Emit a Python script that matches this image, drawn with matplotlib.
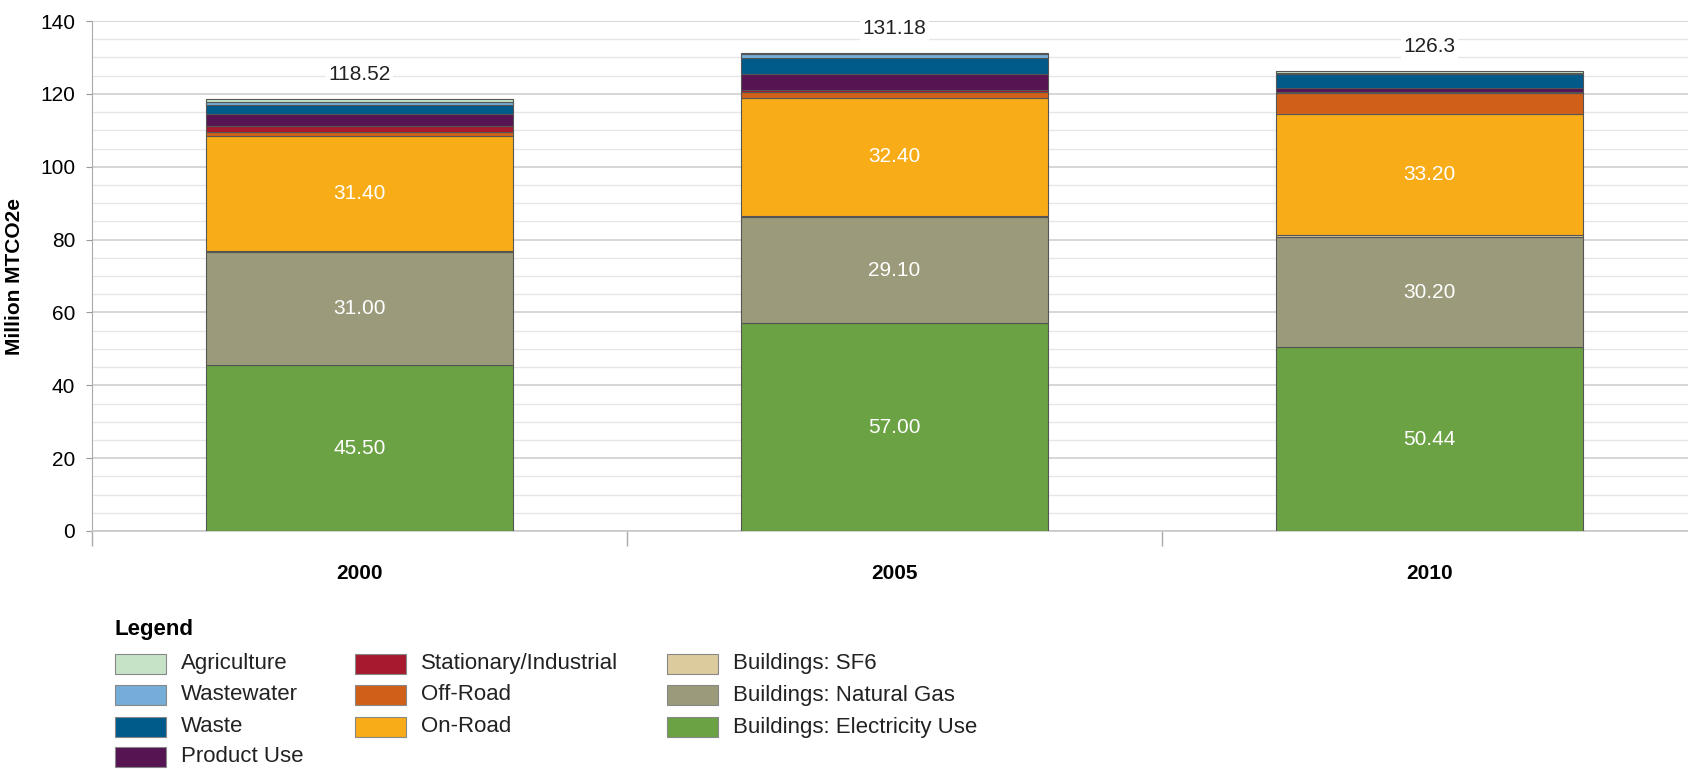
import matplotlib
matplotlib.use('Agg')
import matplotlib.pyplot as plt
from matplotlib.patches import Rectangle
import numpy as np

plt.rcParams['font.family'] = ['Liberation Sans Narrow', 'Liberation Sans', 'DejaVu Sans']

# data (stacked bottom -> top)
years = ['2000', '2005', '2010']
electricity = [45.50, 57.00, 50.44]
natural_gas = [31.00, 29.10, 30.20]
sf6 = [0.40, 0.50, 0.50]
on_road = [31.40, 32.40, 33.20]
off_road = [1.30, 1.50, 5.76]
stationary = [1.50, 0.60, 0.30]
product_use = [3.30, 4.30, 1.30]
waste = [2.50, 4.50, 3.70]
wastewater = [0.95, 1.00, 0.30]
agriculture = [0.67, 0.28, 0.60]
totals = [118.52, 131.18, 126.3]

series = [
    ('Buildings: Electricity Use', electricity, '#6aa244'),
    ('Buildings: Natural Gas', natural_gas, '#9b9a7a'),
    ('Buildings: SF6', sf6, '#dccb9c'),
    ('On-Road', on_road, '#f8ac18'),
    ('Off-Road', off_road, '#d05f1a'),
    ('Stationary/Industrial', stationary, '#a6192e'),
    ('Product Use', product_use, '#561452'),
    ('Waste', waste, '#005a8a'),
    ('Wastewater', wastewater, '#74aed8'),
    ('Agriculture', agriculture, '#c6e3c8'),
]
labelled = ['Buildings: Electricity Use', 'Buildings: Natural Gas', 'On-Road']

W, H = 1688, 769
fig = plt.figure(figsize=(W / 100, H / 100), dpi=100)
ax = fig.add_axes([92 / W, 238 / H, 1605 / W, 510 / H])

x = np.arange(len(years))
bottom = np.zeros(len(years))
colors = {}
for name, vals, col in series:
    vals = np.array(vals)
    bars = ax.bar(x, vals, 0.575, bottom=bottom, color=col, edgecolor='#555555',
                  linewidth=0.8, zorder=3)
    colors[name] = col
    if name in labelled:
        for xi, b, v in zip(x, bottom, vals):
            ax.text(xi, b + v / 2, f'{v:.2f}', ha='center', va='center',
                    color='white', fontsize=15, zorder=4)
    bottom = bottom + vals

for xi, t in zip(x, totals):
    ax.text(xi, t + 6.7, f'{t:g}', ha='center', va='center', fontsize=15,
            color='#222222', zorder=4,
            bbox=dict(facecolor='white', edgecolor='none', pad=2))

ax.set_xlim(-0.5, 2.5)
ax.set_ylim(0, 140)
ax.set_yticks(np.arange(0, 141, 20))
ax.set_yticks(np.arange(0, 141, 5), minor=True)
ax.grid(axis='y', which='major', color='#cfcfcf', linewidth=1.2, zorder=0)
ax.grid(axis='y', which='minor', color='#e6e6e6', linewidth=1.0, zorder=0)
ax.tick_params(axis='y', which='major', length=4, color='#999999', labelsize=15, pad=8)
ax.tick_params(axis='y', which='minor', length=0)

ax.set_xticks(x)
ax.set_xticklabels(years, fontweight='bold', fontsize=15)
ax.set_xticks([-0.5, 0.5, 1.5, 2.5], minor=True)
ax.tick_params(axis='x', which='major', length=0, pad=24)
ax.tick_params(axis='x', which='minor', length=11, color='#aaaaaa', width=1)

for s in ['top', 'right']:
    ax.spines[s].set_visible(False)
ax.spines['left'].set_color('#aaaaaa')
ax.spines['bottom'].set_color('#c8c8c8')
ax.spines['bottom'].set_linewidth(1.2)

ax.set_ylabel('Million MTCO2e', fontweight='bold', fontsize=15, labelpad=12)

# legend
def fx(px):
    return px / W

def fy(py):
    return 1 - py / H

fig.text(fx(115), fy(629), 'Legend', fontweight='bold', fontsize=16, va='center')
columns = [
    (115, ['Agriculture', 'Wastewater', 'Waste', 'Product Use']),
    (355, ['Stationary/Industrial', 'Off-Road', 'On-Road']),
    (667, ['Buildings: SF6', 'Buildings: Natural Gas', 'Buildings: Electricity Use']),
]
rows = [664, 695, 727, 757]
for cx, names in columns:
    for name, ry in zip(names, rows):
        fig.add_artist(Rectangle((fx(cx), fy(ry + 10)), 51 / W, 20 / H,
                                 transform=fig.transFigure, facecolor=colors[name],
                                 edgecolor='#888888', linewidth=0.8))
        fig.text(fx(cx + 66), fy(ry), name, fontsize=16, va='center', color='#222222')

fig.savefig('out.png', dpi=100)
